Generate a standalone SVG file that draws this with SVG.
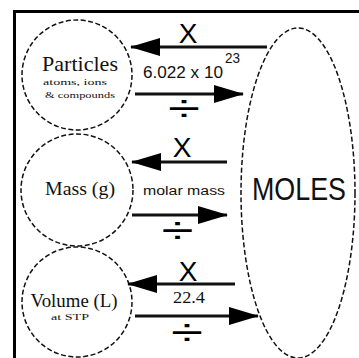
<svg xmlns="http://www.w3.org/2000/svg" width="359" height="358" viewBox="0 0 359 358">
<defs>
<marker id="ah" markerUnits="userSpaceOnUse" markerWidth="30" markerHeight="20" viewBox="0 0 30 20" refX="29" refY="10" orient="auto">
<path d="M0,1 L30,10 L0,19 Z" fill="#000"/>
</marker>
<style>
.node{fill:#fff;stroke:#111;stroke-width:1.5;stroke-dasharray:5 2.5}
.conn{stroke:#111;stroke-width:3;fill:none;marker-end:url(#ah)}
.serif{font-family:"Liberation Serif","Times New Roman",serif;fill:#111}
.sans{font-family:"Liberation Sans",Arial,sans-serif;fill:#111}
.x{font-family:"Liberation Sans",Arial,sans-serif;font-size:28px;fill:#000;text-anchor:middle}
.div{font-family:"Liberation Sans",Arial,sans-serif;font-size:37px;fill:#000;text-anchor:middle}
</style>
</defs>
<rect x="0" y="0" width="359" height="358" fill="#fff"/>
<rect x="14.5" y="11.5" width="400" height="400" fill="none" stroke="#000" stroke-width="3"/>
<g id="particles">
<circle class="node" cx="77" cy="75" r="55"/>
<text class="serif" x="80" y="71" font-size="21" text-anchor="middle" textLength="76" lengthAdjust="spacingAndGlyphs">Particles</text>
<text class="serif" x="75" y="85" font-size="9" text-anchor="middle" textLength="64" lengthAdjust="spacingAndGlyphs">atoms, ions</text>
<text class="serif" x="80" y="98" font-size="9" text-anchor="middle" textLength="70" lengthAdjust="spacingAndGlyphs">&amp; compounds</text>
</g>
<g id="mass">
<circle class="node" cx="77" cy="190" r="56"/>
<text class="serif" x="80" y="195" font-size="19" text-anchor="middle" textLength="70" lengthAdjust="spacingAndGlyphs">Mass (g)</text>
</g>
<g id="volume">
<circle class="node" cx="77" cy="302" r="55"/>
<text class="serif" x="74" y="307" font-size="19" text-anchor="middle" textLength="87" lengthAdjust="spacingAndGlyphs">Volume (L)</text>
<text class="serif" x="70" y="320" font-size="9" text-anchor="middle" textLength="38" lengthAdjust="spacingAndGlyphs">at STP</text>
</g>
<g id="moles">
<ellipse class="node" cx="298" cy="193" rx="57" ry="165"/>
<text class="sans" x="299" y="200" font-size="31" text-anchor="middle" textLength="94" lengthAdjust="spacingAndGlyphs">MOLES</text>
</g>
<g id="connectors">
<line class="conn" x1="267" y1="47" x2="131" y2="47"/>
<line class="conn" x1="135" y1="94" x2="243" y2="94"/>
<line class="conn" x1="227" y1="162" x2="132" y2="162"/>
<line class="conn" x1="132" y1="215" x2="227" y2="215"/>
<line class="conn" x1="235" y1="284" x2="128" y2="284"/>
<line class="conn" x1="135" y1="316" x2="258" y2="316"/>
</g>
<g id="labels">
<text class="x" x="188" y="43">X</text>
<text class="sans" x="143" y="78" font-size="16" textLength="80" lengthAdjust="spacingAndGlyphs" fill="#333">6.022 x 10</text>
<text class="sans" x="225" y="63" font-size="15" textLength="15" lengthAdjust="spacingAndGlyphs" fill="#333">23</text>
<text class="div" x="184" y="121" textLength="32" lengthAdjust="spacingAndGlyphs">÷</text>
<text class="x" x="182" y="157">X</text>
<text class="sans" x="143" y="195" font-size="12" textLength="82" lengthAdjust="spacingAndGlyphs" fill="#333">molar mass</text>
<text class="div" x="177.5" y="243" textLength="32" lengthAdjust="spacingAndGlyphs">÷</text>
<text class="x" x="188" y="281">X</text>
<text class="serif" x="173" y="303" font-size="16" textLength="32" lengthAdjust="spacingAndGlyphs">22.4</text>
<text class="div" x="187" y="345" textLength="32" lengthAdjust="spacingAndGlyphs">÷</text>
</g>
</svg>
